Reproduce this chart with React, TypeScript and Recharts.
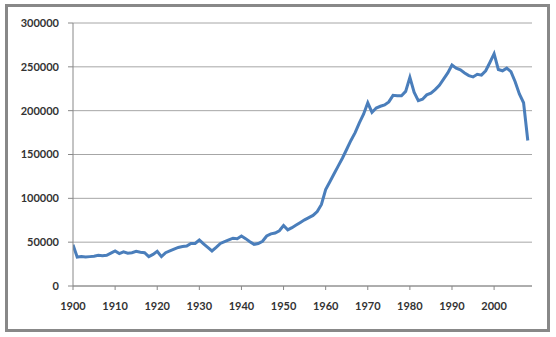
import React from "react";
import { LineChart, Line, XAxis, YAxis, CartesianGrid } from "recharts";

const years: number[] = [
  1900, 1901, 1902, 1903, 1904, 1905, 1906, 1907, 1908, 1909,
  1910, 1911, 1912, 1913, 1914, 1915, 1916, 1917, 1918, 1919,
  1920, 1921, 1922, 1923, 1924, 1925, 1926, 1927, 1928, 1929,
  1930, 1931, 1932, 1933, 1934, 1935, 1936, 1937, 1938, 1939,
  1940, 1941, 1942, 1943, 1944, 1945, 1946, 1947, 1948, 1949,
  1950, 1951, 1952, 1953, 1954, 1955, 1956, 1957, 1958, 1959,
  1960, 1961, 1962, 1963, 1964, 1965, 1966, 1967, 1968, 1969,
  1970, 1971, 1972, 1973, 1974, 1975, 1976, 1977, 1978, 1979,
  1980, 1981, 1982, 1983, 1984, 1985, 1986, 1987, 1988, 1989,
  1990, 1991, 1992, 1993, 1994, 1995, 1996, 1997, 1998, 1999,
  2000, 2001, 2002, 2003, 2004, 2005, 2006, 2007, 2008,
];

const values: number[] = [
  47000, 33000, 33500, 33000, 33500, 34000, 35000, 34500, 35000, 37500,
  40000, 37000, 39000, 37500, 38000, 39500, 38500, 38000, 33500, 36000,
  39500, 33500, 38000, 40000, 42000, 44000, 45000, 45500, 48500, 48500,
  52500, 48000, 44000, 40000, 44000, 48500, 50500, 52500, 54500, 54000,
  57000, 54000, 50500, 47500, 48500, 51000, 57000, 59500, 60500, 63000,
  69000, 64000, 66500, 69500, 72500, 75500, 78000, 80500, 85000, 93000,
  110000, 119000, 128000, 137000, 146000, 156000, 166000, 175000, 186000, 196000,
  209000, 198000, 203000, 205000, 206500, 210000, 217500, 217000, 217000, 222000,
  238000, 221000, 211500, 213000, 218000, 220000, 224000, 229000, 236000, 243000,
  252000, 248500, 246500, 243000, 240000, 238500, 241500, 240500, 245500, 255000,
  265000, 247000, 245500, 248500, 244500, 233000, 219000, 209000, 166000,
];

const xTicks: number[] = [1900, 1910, 1920, 1930, 1940, 1950, 1960, 1970, 1980, 1990, 2000];
const yTicks: number[] = [0, 50000, 100000, 150000, 200000, 250000, 300000];

const data = years.map((y, i) => ({ year: y, value: values[i] }));

const tickStyle = {
  fontFamily: "Lato, 'Open Sans', sans-serif",
  fontSize: 11,
  fontWeight: 700,
  fill: "#333333",
};

export default function App() {
  return (
    <div
      style={{
        position: "absolute",
        left: 0,
        top: 0,
        width: 556,
        height: 337,
        background: "#ffffff",
      }}
    >
      <div
        style={{
          position: "absolute",
          left: 5,
          top: 4,
          width: 539,
          height: 322,
          border: "3px solid #888888",
        }}
      />
      <div style={{ position: "absolute", left: 0, top: 0 }}>
        <LineChart
          width={556}
          height={337}
          data={data}
          margin={{ top: 23, right: 24, bottom: 21, left: 0 }}
        >
          <CartesianGrid vertical={false} stroke="#a6a6a6" strokeWidth={1} />
          <XAxis
            dataKey="year"
            type="number"
            domain={[1900, 2009]}
            ticks={xTicks}
            interval={0}
            tick={tickStyle}
            tickSize={4}
            tickMargin={12}
            height={30}
            stroke="#888888"
            allowDataOverflow
          />
          <YAxis
            type="number"
            domain={[0, 300000]}
            ticks={yTicks}
            interval={0}
            width={73}
            tick={tickStyle}
            tickSize={5}
            tickMargin={9}
            stroke="#888888"
          />
          <Line
            type="linear"
            dataKey="value"
            stroke="#4a7ebb"
            strokeWidth={3}
            dot={false}
            isAnimationActive={false}
          />
        </LineChart>
      </div>
    </div>
  );
}
